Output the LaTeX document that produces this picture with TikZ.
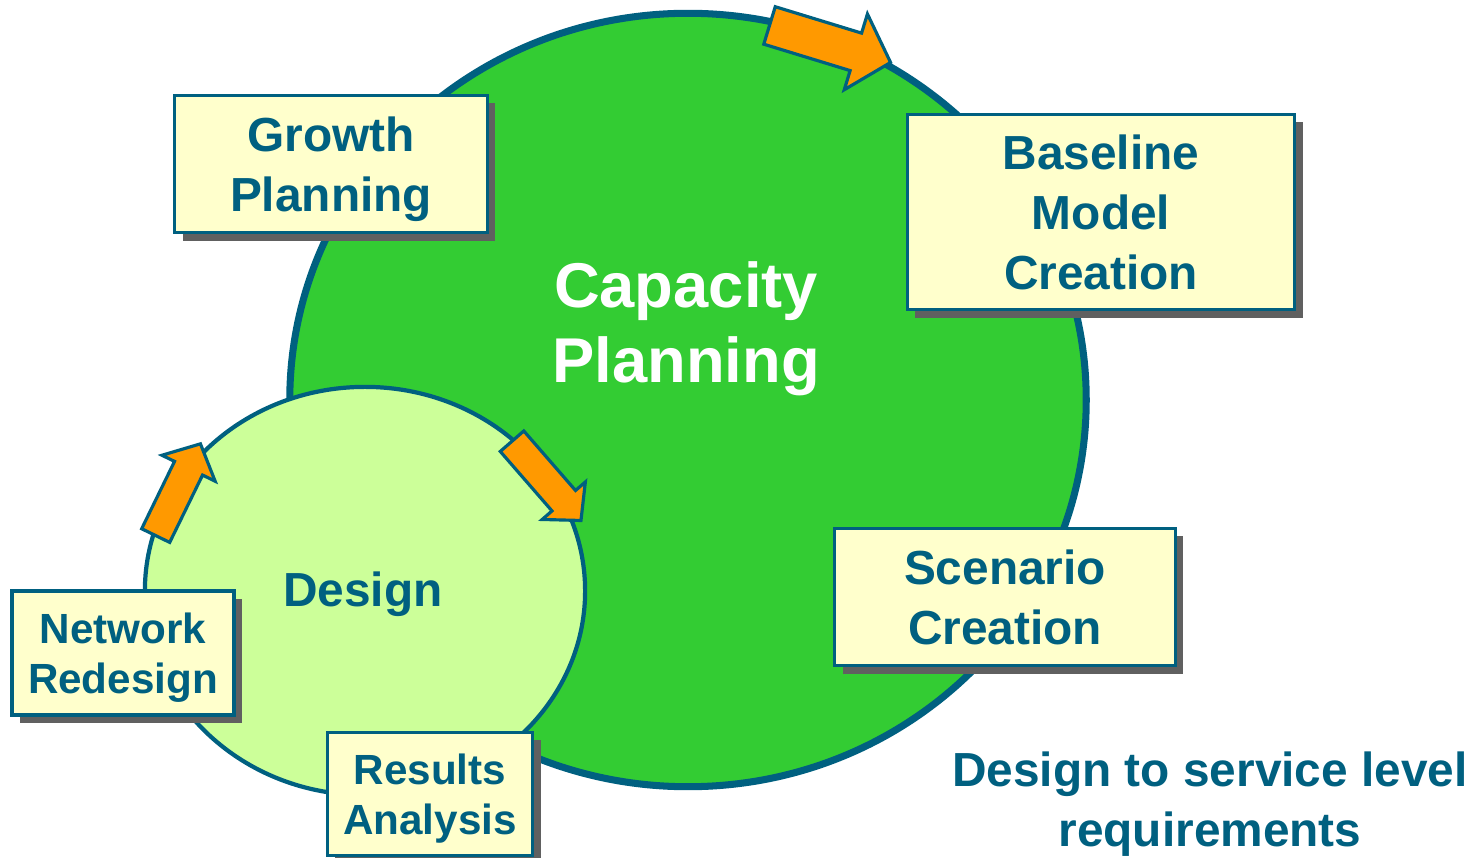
\documentclass[tikz,border=0pt]{standalone}
\usepackage{fontspec}
\setmainfont{Liberation Sans}
\usepackage{tikz}
\usetikzlibrary{shapes.geometric, shapes.arrows, shadows}
\definecolor{planblue}{RGB}{0,96,128}
\definecolor{biggreen}{RGB}{51,204,51}
\definecolor{lightgreen}{RGB}{204,255,153}
\definecolor{boxyellow}{RGB}{255,255,204}
\definecolor{arroworange}{RGB}{255,153,0}
\definecolor{shadowgray}{RGB}{96,96,96}
\tikzset{
    bigring/.style={ellipse,draw=planblue,line width=2pt,fill=biggreen},
    smallring/.style={ellipse,draw=planblue,line width=1.2pt,fill=lightgreen},
    stepbox/.style={rectangle,draw=planblue,line width=0.9pt,fill=boxyellow,
        text=planblue,align=center,text depth=0pt,font=\bfseries\fontsize{13.6}{17}\selectfont,
        general shadow={fill=shadowgray,shadow xshift=0.08cm,shadow yshift=-0.08cm}},
    smallbox/.style={stepbox,font=\bfseries\fontsize{12}{14.2}\selectfont},
    blockarrow/.style={single arrow,draw=planblue,line width=0.9pt,fill=arroworange,
        inner sep=0pt,anchor=tail,single arrow tip angle=95},
    textnode/.style={align=center,text=planblue,font=\bfseries\fontsize{13.6}{17}\selectfont}}

\begin{document}
\begin{tikzpicture}
[x=0.01cm,y=-0.01cm]
\useasboundingbox (0,0) rectangle (1479,858);
\node[bigring, minimum width=7.96cm, minimum height=7.73cm] (capacity) at (688,400) {};
\node[smallring, minimum width=4.40cm, minimum height=4.08cm] (design) at (365,591) {};

\node[textnode, text=white, font=\bfseries\fontsize{18}{21.3}\selectfont] (captext) at (686,329) {Capacity\\Planning};
\node[textnode] (designtext) at (363,594) {Design};
\node[textnode] (goal) at (1210,804) {Design to service level\\requirements};

\node[stepbox, minimum width=3.12cm, minimum height=1.37cm] (growth) at (331,164) {Growth\\Planning};
\node[stepbox, minimum width=3.87cm, minimum height=1.95cm] (baseline) at (1101,212) {Baseline\\Model\\Creation};
\node[stepbox, minimum width=3.40cm, minimum height=1.37cm] (scenario) at (1005,597) {Scenario\\Creation};
\node[smallbox, minimum width=2.22cm, minimum height=1.24cm] (network) at (123,653) {Network\\Redesign};
\node[smallbox, minimum width=2.05cm, minimum height=1.23cm] (results) at (430,794) {Results\\Analysis};

\node[blockarrow, rotate=-17, minimum height=1.265cm, inner ysep=0.18cm, single arrow head extend=0.2cm] (arrtop) at (768,25) {};
\node[blockarrow, rotate=-49, minimum height=1.05cm, inner ysep=0.14cm, single arrow head extend=0.13cm] (arrmid) at (511,440) {};
\node[blockarrow, rotate=64, minimum height=1.02cm, inner ysep=0.14cm, single arrow head extend=0.14cm] (arrleft) at (155,537) {};
\end{tikzpicture}
\end{document}
